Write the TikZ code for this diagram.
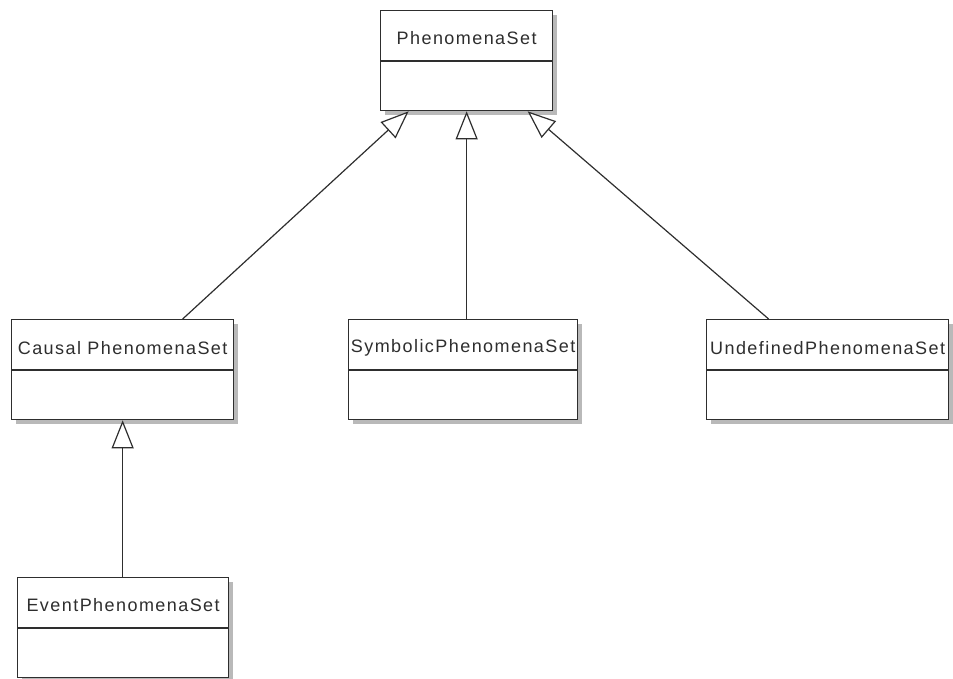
\documentclass[tikz,border=0pt]{standalone}
\usepackage{fontspec}
\setmainfont{Liberation Sans}[LetterSpace=8]
\usetikzlibrary{arrows.meta,shadows}
\definecolor{ink}{HTML}{2E2E2E}
\begin{document}
\begin{tikzpicture}[x=1pt,y=-1pt,
  umlbox/.style={draw=ink, line width=1.3pt, fill=white, inner sep=0pt,
    anchor=north west, minimum height=100pt,
    drop shadow={shadow xshift=4pt, shadow yshift=-4pt, fill=gray!55, opacity=1}},
  umlname/.style={text=ink, inner sep=0pt, font=\fontsize{18}{20}\selectfont},
  divider/.style={draw=ink, line width=1.3pt},
  inherit/.style={draw=ink, line width=1.2pt,
    -{Triangle[open, length=28pt, width=22pt, fill=white, line width=1.2pt]}}
]
\useasboundingbox (0,0) rectangle (953,678);

% boxes
\node[umlbox, minimum width=172pt] (ps) at (380,10) {};
\node[umlbox, minimum width=222pt] (cps) at (11,319) {};
\node[umlbox, minimum width=229pt] (sps) at (348,319) {};
\node[umlbox, minimum width=242pt] (ups) at (706,319) {};
\node[umlbox, minimum width=211pt] (eps) at (17,577) {};

% dividers
\foreach \b in {ps,cps,sps,ups,eps}{
  \draw[divider] ([yshift=-51pt]\b.north west) -- ([yshift=-51pt]\b.north east);
}

% names
\node[umlname] (psn) at ([yshift=-28pt]ps.north) {PhenomenaSet};
\node[umlname] (cpsn) at ([yshift=-29pt]cps.north) {Causal PhenomenaSet};
\node[umlname] (spsn) at ([yshift=-29pt]sps.north) {SymbolicPhenomenaSet};
\node[umlname] (upsn) at ([yshift=-29pt]ups.north) {UndefinedPhenomenaSet};
\node[umlname] (epsn) at ([yshift=-28pt]eps.north) {EventPhenomenaSet};

% generalisations
\coordinate (c1) at ([xshift=60pt]cps.north);
\coordinate (t1) at ([xshift=-58pt]ps.south);
\coordinate (c3) at ([xshift=-59pt]ups.north);
\coordinate (t3) at ([xshift=61pt]ps.south);
\draw[inherit] (c1) -- (t1);
\draw[inherit] (ps.south |- sps.north) -- (ps.south);
\draw[inherit] (c3) -- (t3);
\draw[inherit] (cps.south |- eps.north) -- (cps.south);
\end{tikzpicture}
\end{document}
